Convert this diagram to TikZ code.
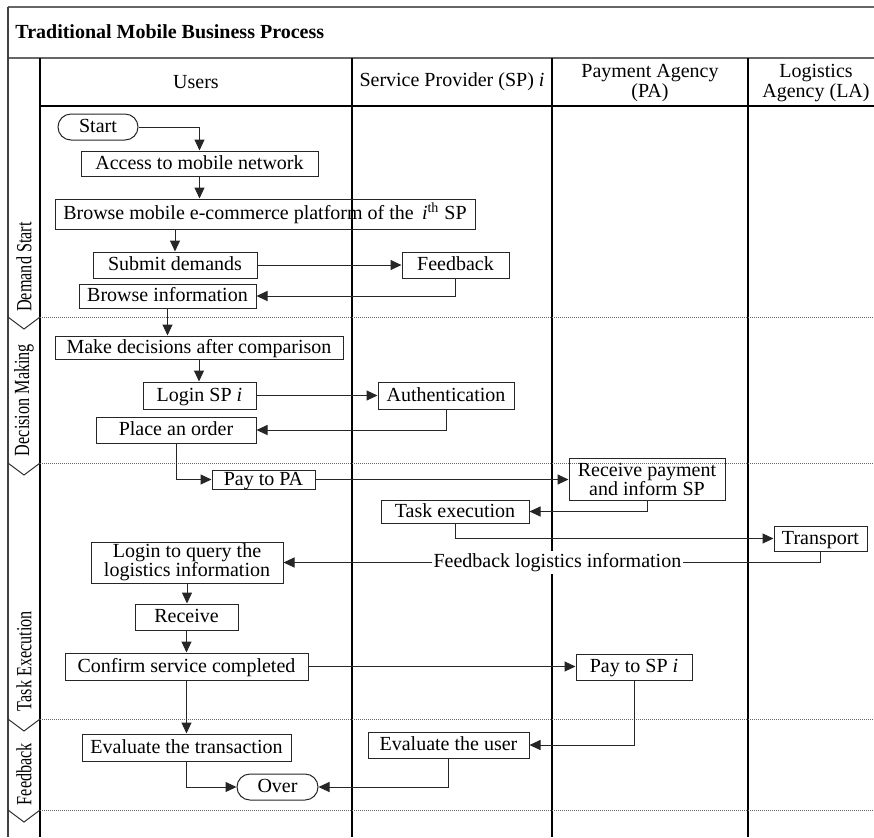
\documentclass[tikz,border=0pt]{standalone}
\usepackage{fontspec}
\setmainfont{Liberation Serif}
\usepackage{graphicx}
\usetikzlibrary{arrows.meta}
\begin{document}
\begin{tikzpicture}[x=0.5pt,y=-0.5pt,
  box/.style={draw=black!85, line width=0.5pt, inner sep=0pt, align=center, font=\fontsize{10}{9.5}\selectfont},
  sbox/.style={box, text height=7.6pt, text depth=1.8pt},
  term/.style={sbox, rounded corners=6.5pt},
  arr/.style={draw=black!85, line width=0.5pt, -{Triangle[length=5.5pt,width=5pt]}},
  lane/.style={line width=0.75pt, black},
  frameline/.style={line width=1pt, black!60},
  phaseline/.style={black!60, dash pattern=on 0.5pt off 0.5pt, line width=0.5pt},
  hdr/.style={inner sep=0pt, align=center, font=\fontsize{10}{10}\selectfont},
  phaselabel/.style={rotate=90, inner sep=0pt, font=\fontsize{10.8}{12}\selectfont},
]
\fill[white] (0,0) rectangle (874,837);
\useasboundingbox (0,0) rectangle (874,837);

% frame
\draw[frameline] (8,7) -- (874,7);
\draw[frameline] (8,58) -- (874,58);
\draw[line width=0.75pt, black!75] (8,7) -- (8,837);
\draw[lane] (40,58) -- (40,837);
\draw[line width=0.6pt] (40,106) -- (874,106);
\foreach \x in {352,552,748} \draw[lane] (\x,58) -- (\x,837);
\foreach \y in {317,463,719,810} {
  \draw[phaseline] (40,\y) -- (874,\y);
  \draw[line width=0.5pt, black!80] (8,\y) -- (24,{\y+12}) -- (40,\y);
}

% title and headers
\node[anchor=west, inner sep=0pt, font=\bfseries\fontsize{10}{12}\selectfont] (title) at (15,32) {Traditional Mobile Business Process};
\node[hdr] (husers) at (196,82) {Users};
\node[hdr] (hsp) at (452,82) {Service Provider (SP) \textit{i}};
\node[hdr] (hpa) at (650,83) {Payment Agency\\(PA)};
\node[hdr] (hla) at (816,83) {Logistics\\Agency (LA)};

% phase labels
\node[phaselabel] (p1) at (24,267) {\scalebox{0.75}[1]{Demand Start}};
\node[phaselabel] (p2) at (24,400) {\scalebox{0.75}[1]{Decision Making}};
\node[phaselabel] (p3) at (24,661) {\scalebox{0.75}[1]{Task Execution}};
\node[phaselabel] (p4) at (24,774) {\scalebox{0.75}[1]{Feedback}};

% nodes
\node[term, minimum width=40pt, minimum height=13pt] (start) at (98,127) {Start};
\node[sbox, minimum width=118.5pt, minimum height=12.5pt] (access) at (199.5,163.5) {Access to mobile network};
\node[sbox, minimum width=210pt, minimum height=15pt] (browse) at (265,214) {Browse mobile e-commerce platform of the \,\textit{i}\textsuperscript{th} SP};
\node[sbox, minimum width=82pt, minimum height=13pt] (submit) at (175,265) {Submit demands};
\node[sbox, minimum width=53.5pt, minimum height=13pt] (feedback) at (455.5,265) {Feedback};
\node[sbox, minimum width=88.5pt, minimum height=12pt] (browseinfo) at (167.5,296) {Browse information};
\node[sbox, minimum width=144pt, minimum height=11.5pt] (decide) at (199,347.5) {Make decisions after comparison};
\node[sbox, minimum width=56.5pt, minimum height=13.5pt] (login) at (199.5,395.5) {Login SP \textit{i}};
\node[sbox, minimum width=68pt, minimum height=13.5pt] (auth) at (446,395.5) {Authentication};
\node[sbox, minimum width=80pt, minimum height=13pt] (order) at (176,430) {Place an order};
\node[sbox, minimum width=51.5pt, minimum height=9.5pt] (paypa) at (263.5,479.5) {Pay to PA};
\node[box, minimum width=78pt, minimum height=21pt] (receive) at (647,479) {Receive payment\\and inform SP};
\node[sbox, minimum width=74pt, minimum height=11.5pt] (task) at (455,511.5) {Task execution};
\node[sbox, minimum width=46.5pt, minimum height=12.5pt] (transport) at (820.5,538.5) {Transport};
\node[box, minimum width=96pt, minimum height=20.5pt] (query) at (187,562.5) {Login to query the\\logistics information};
\node[sbox, minimum width=51.5pt, minimum height=13pt] (recv) at (186.5,617) {Receive};
\node[sbox, minimum width=121.5pt, minimum height=13.5pt] (confirm) at (186.5,666.5) {Confirm service completed};
\node[sbox, minimum width=58pt, minimum height=13pt] (paysp) at (634,667) {Pay to SP \textit{i}};
\node[sbox, minimum width=104.5pt, minimum height=13.5pt] (evaltx) at (186.5,747.5) {Evaluate the transaction};
\node[sbox, minimum width=80.5pt, minimum height=13pt] (evaluser) at (448.5,745) {Evaluate the user};
\node[term, minimum width=40.5pt, minimum height=13pt] (over) at (277.5,787) {Over};

% connectors
\draw[arr] (start.east) -| (access.north);
\draw[arr] (access.south) -- (access.south |- browse.north);
\draw[arr] (submit.north |- browse.south) -- (submit.north);
\draw[arr] (submit.east) -- (feedback.west);
\draw[arr] (feedback.south) |- (browseinfo.east);
\draw[arr] (browseinfo.south) -- (browseinfo.south |- decide.north);
\draw[arr] (decide.south) -- (decide.south |- login.north);
\draw[arr] (login.east) -- (auth.west);
\draw[arr] (auth.south) |- (order.east);
\draw[arr] (order.south) |- (paypa.west);
\draw[arr] (paypa.east) -- (paypa.east -| receive.west);
\draw[arr] (receive.south) |- (task.east);
\draw[arr] (task.south) |- (transport.west);
\draw[arr] (transport.south) |- node[pos=0.745, fill=white, inner sep=1pt, font=\fontsize{10}{12}\selectfont] (fbl) {Feedback logistics information} (query.east);
\draw[arr] (query.south) -- (query.south |- recv.north);
\draw[arr] (recv.south) -- (recv.south |- confirm.north);
\draw[arr] (confirm.east) -- (confirm.east -| paysp.west);
\draw[arr] (confirm.south) -- (confirm.south |- evaltx.north);
\draw[arr] (paysp.south) |- (evaluser.east);
\draw[arr] (evaltx.south) |- (over.west);
\draw[arr] (evaluser.south) |- (over.east);
\end{tikzpicture}
\end{document}
